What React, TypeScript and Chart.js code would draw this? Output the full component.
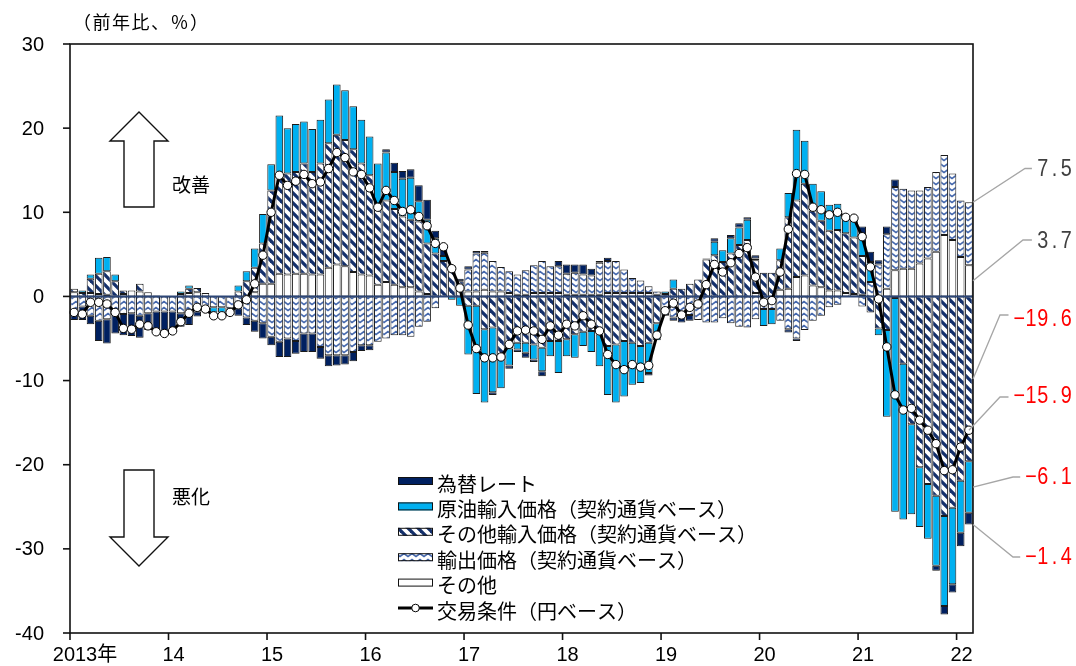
import { useEffect, useRef } from "react";
import { Chart, registerables } from "chart.js";

Chart.register(...registerables);

// Monthly categories, 2013/01 .. 2022/02
const months: string[] = [];
for (let y = 2013; y <= 2022; y++) {
  for (let m = 1; m <= 12; m++) {
    if (y === 2022 && m > 2) break;
    months.push(`${y}/${m}`);
  }
}

const yearLabels = ["2013年", "14", "15", "16", "17", "18", "19", "20", "21", "22"];
const yTicks = [30, 20, 10, 0, -10, -20, -30, -40];

// Contributions (percentage points, y/y)
const otherFactors = [
  0.5, 0, 0.4, 0.3, 0.2, 0, 0.3, 0.7, 0.6, 0.5, 0.1, 0,
  0, 0, 0.4, 0.5, 0.4, 0, 0, 0, 0, 0, 0.5, 1.5,
  1.5, 2.7, 2.6, 2.7, 2.7, 2.6, 2.6, 3.4, 3.8, 3.6, 2.9, 2.6,
  2.5, 1.4, 1.7, 1.4, 1.1, 1.1, 0.6, 0.3, 0, 0, 0, 0,
  0.6, 0.6, 0.8, 0.6, 0.6, 0.4, 0.2, 0.2, 0.4, 0.4, 0.4, 0.4,
  0.2, 0.2, 0.2, 0.2, 0.2, 0.4, 0.4, 0.4, 0.4, 0.4, 0.4, 0.2,
  0, 0, 0, 0, 0, 0, 0, 0, 0, 0, 0, 0.4,
  0, 0, 0.8, 0.9, 2.3, 2.5, 1.3, 1.1, 0.7, 0.7, 0.4, 0.3,
  0.2, 0, 0, 0.9, 3.1, 3.3, 3.3, 3.9, 4.5, 5.3, 7.3, 6.7,
  4.7, 3.7,
];

const exportPrices = [
  -1.8, -1.2, -2.3, -2.9, -2.7, -1.8, -2.1, -2.0, -2.3, -2.0, -1.8, -1.8,
  -1.8, -2.0, -2.2, -1.8, -1.6, -1.3, -1.3, -1.4, -1.4, -2.5, -2.9, -3.2,
  -4.8, -5.4, -5.0, -5.3, -4.4, -4.4, -6.0, -7.0, -7.0, -7.0, -6.6, -5.8,
  -5.8, -5.4, -5.0, -4.6, -4.6, -4.8, -3.6, -3.0, -1.4, 0, 0, 0,
  2.6, 4.5, 4.4, 3.6, 2.9, 2.6, 2.4, 2.9, 3.3, 3.8, 3.2, 3.2,
  2.5, 2.6, 2.4, 2.3, 3.8, 3.8, 3.8, 2.8, 1.8, 1.5, 0.8, 0.4,
  -1.7, -2.5, -2.5, -2.2, -2.8, -3.1, -3.1, -2.6, -3.2, -3.6, -3.7, -2.7,
  -1.5, -1.5, -2.9, -3.9, -5.0, -4.0, -2.9, -2.3, -1.3, -1.0, 0, 0,
  -1.2, 1.7, 3.8, 6.5, 9.9, 9.5, 9.3, 8.7, 8.5, 9.5, 9.5, 7.9,
  6.7, 7.5,
];

const otherImportPrices = [
  0.4, 0.4, 1.7, 2.4, 2.8, 1.8, 0.4, 0, 0.9, 0, 0, 0,
  0, 0.3, 0.5, 0.5, 0, 0, 0, 0, 0.6, 1.8, 2.9, 4.8,
  11.1, 11.9, 12.0, 12.1, 13.1, 12.2, 13.2, 14.8, 15.4, 15.0, 14.6, 13.2,
  11.9, 9.4, 9.7, 9.0, 8.4, 8.0, 8.3, 6.0, 5.1, 4.2, 3.3, 1.8,
  -1.1, -1.1, -3.9, -3.7, -6.9, -6.2, -5.5, -5.5, -5.7, -6.1, -5.3, -5.3,
  -5.1, -4.5, -4.2, -4.1, -4.5, -5.9, -5.7, -5.3, -5.5, -5.9, -5.5, -3.2,
  0.3, 0.9, 0.9, 1.5, 2.0, 4.4, 4.9, 4.1, 5.1, 6.1, 6.7, 3.9,
  2.8, 2.8, 3.5, 8.5, 9.1, 10.9, 8.9, 7.9, 7.1, 7.2, 7.1, 6.7,
  4.6, -1.9, -3.8, -4.0, -0.2, -8.0, -15.2, -20.3, -22.3, -23.7, -26.1, -25.1,
  -21.9, -19.6,
];

const crudeOilImportPrices = [
  0, 0.3, 0.5, 1.9, 1.7, 0.8, 0, 0, 0, 0, 0, 0,
  0, 0.3, 0.4, 0, 0, -0.6, -0.6, 0, 0.7, 1.2, 2.3, 3.5,
  3.1, 6.9, 5.4, 5.7, 5.0, 5.1, 5.2, 5.2, 6.0, 5.9, 5.1, 5.2,
  4.6, 5.0, 5.7, 4.4, 4.5, 5.0, 2.4, 2.8, 1.8, 0.6, -0.4, -1.1,
  -5.8, -10.5, -8.7, -7.7, -4.0, -2.0, -0.8, -1.2, -1.8, -2.8, -1.8, -3.8,
  -2.0, -2.8, -1.7, -2.5, -3.8, -5.8, -6.9, -6.6, -5.0, -4.4, -3.6, -2.0,
  0.3, 1.1, 0, 0, 0, 0, 1.6, 1.4, 1.8, 2.1, 2.4, 0.2,
  -2.0, -1.8, 1.4, 2.9, 8.4, 5.1, 3.2, 3.5, 3.1, 3.1, 2.0, 2.0,
  2.6, 2.4, -0.8, -10.3, -25.4, -18.5, -10.7, -7.1, -6.5, -8.3, -10.7, -9.1,
  -6.2, -6.1,
];

const exchangeRate = [
  -1.0, -1.6, -1.0, -2.4, -2.9, -2.6, -2.5, -2.7, -2.6, -2.0, -2.5, -2.6,
  -2.3, -1.6, -1.2, -0.6, -0.3, -0.4, -0.4, -0.5, -0.9, -0.9, -1.3, -1.8,
  -1.0, -1.8, -2.2, -1.5, -2.2, -2.2, -1.4, -1.3, -1.2, -1.1, -1.1, -0.7,
  -0.6, 0, 0.4, 1.1, 0.9, 1.0, 1.9, 2.4, 0.9, 1.0, 0.4, 0.3,
  0.4, 0.3, 0.2, -0.3, 0, -0.4, -0.3, -0.6, -0.3, -0.6, 0, 0.6,
  1.1, 1.0, 1.2, 0.8, 0.2, 0.4, 0, 0, 0, 0, -0.3, 0,
  -0.6, -0.4, -0.6, -0.7, 0, 0.1, 0.4, 0, 0.4, 0.5, 0.3, 0.4,
  0, 0, 0, -0.4, -0.3, 0, 0, 0, 0, 0, 0, 0.4,
  0.9, 1.2, 0.5, 0.9, 0.9, 0, 0, 0, 0, -0.6, -1.0, -1.0,
  -1.6, -1.4,
];

// Terms of trade (yen basis, y/y %)
const termsOfTrade = [
  -1.9, -2.1, -0.7, -0.7, -0.9, -1.9, -3.8, -3.9, -3.3, -3.5, -4.2, -4.4,
  -4.1, -3.0, -2.0, -1.3, -1.5, -2.3, -2.3, -1.9, -1.0, -0.4, 1.5, 4.9,
  10.0, 14.4, 13.2, 13.7, 14.5, 13.4, 13.6, 15.2, 17.1, 16.5, 14.8, 14.5,
  12.9, 10.6, 12.6, 11.4, 10.1, 10.3, 9.5, 8.4, 6.3, 5.9, 3.3, 1.0,
  -3.4, -6.2, -7.3, -7.3, -7.2, -5.7, -4.1, -4.0, -4.1, -5.1, -3.5, -4.6,
  -3.3, -3.5, -2.3, -3.3, -4.1, -6.9, -8.1, -8.7, -8.1, -8.4, -8.2, -4.6,
  -1.7, -0.8, -2.2, -1.3, -0.9, 1.4, 3.8, 2.9, 4.0, 5.1, 5.8, 2.3,
  -0.7, -0.5, 2.9, 8.0, 14.6, 14.5, 10.6, 10.3, 9.7, 10.0, 9.4, 9.3,
  7.1, 3.5, -0.3, -6.0, -11.7, -13.5, -13.3, -14.7, -15.9, -17.5, -20.7, -20.6,
  -17.9, -15.9,
];

const NAVY = "#002060";
const CYAN = "#00B0F0";
const JP_FONT = '"Noto Sans CJK JP", "Noto Sans", sans-serif';
const NUM_FONT = '"Liberation Sans", Arial, "Noto Sans CJK JP", sans-serif';

function makeHatch(): CanvasPattern {
  const c = document.createElement("canvas");
  c.width = 10;
  c.height = 10;
  const g = c.getContext("2d")!;
  g.fillStyle = "#ffffff";
  g.fillRect(0, 0, 10, 10);
  g.strokeStyle = "#14306b";
  g.lineWidth = 3.3;
  for (const off of [-10, 0, 10]) {
    g.beginPath();
    g.moveTo(off - 3, -3);
    g.lineTo(off + 13, 13);
    g.stroke();
  }
  return g.createPattern(c, "repeat")!;
}

function makeZigzag(): CanvasPattern {
  const c = document.createElement("canvas");
  c.width = 8;
  c.height = 6;
  const g = c.getContext("2d")!;
  g.fillStyle = "#ffffff";
  g.fillRect(0, 0, 8, 6);
  g.strokeStyle = "#4568ad";
  g.lineWidth = 1.6;
  g.beginPath();
  g.moveTo(-4, 1.5);
  g.lineTo(0, 4.5);
  g.lineTo(4, 1.5);
  g.lineTo(8, 4.5);
  g.lineTo(12, 1.5);
  g.stroke();
  return g.createPattern(c, "repeat")!;
}

const toBar = (arr: number[]) => arr.map((v) => (v === 0 ? null : v));

function fmt(v: number): string {
  const s = Math.abs(v).toFixed(1);
  return v < 0 ? "\u2212" + s : s;
}

const LINE_INDEX = 5;

const decorPlugin = {
  id: "decor",
  beforeDatasetDraw(chart: any, args: any) {
    if (args.index !== LINE_INDEX) return;
    const { ctx, chartArea: a, scales } = chart;
    const y0 = scales.y.getPixelForValue(0);
    ctx.save();
    ctx.strokeStyle = "#2d4677";
    ctx.lineWidth = 2;
    ctx.beginPath();
    ctx.moveTo(a.left, y0);
    ctx.lineTo(a.right, y0);
    ctx.stroke();
    ctx.restore();
  },
  afterDraw(chart: any) {
    const { ctx, chartArea: a, scales } = chart;
    const ys = scales.y;
    const xs = scales.x;
    const n = months.length;
    const w = (a.right - a.left) / n;
    ctx.save();

    // frame
    ctx.strokeStyle = "#111";
    ctx.lineWidth = 1.6;
    ctx.strokeRect(a.left, a.top, a.right - a.left, a.bottom - a.top);

    // y axis ticks and labels
    ctx.font = `20px ${NUM_FONT}`;
    ctx.fillStyle = "#000";
    ctx.textAlign = "right";
    ctx.textBaseline = "middle";
    for (const v of yTicks) {
      const y = ys.getPixelForValue(v);
      ctx.beginPath();
      ctx.moveTo(a.left - 7, y);
      ctx.lineTo(a.left, y);
      ctx.stroke();
      ctx.fillText(String(v), a.left - 26, y + 1);
    }

    // x axis year ticks and labels
    ctx.font = `20px ${NUM_FONT}`;
    yearLabels.forEach((lab, k) => {
      const x = a.left + 12 * k * w;
      ctx.beginPath();
      ctx.moveTo(x, a.bottom);
      ctx.lineTo(x, a.bottom + 7);
      ctx.stroke();
      const digits = lab.replace("年", "");
      const dw = ctx.measureText(digits).width;
      ctx.textAlign = "left";
      ctx.fillText(lab, x + 5 - dw / 2, 655);
    });

    // unit label
    ctx.font = `18px ${JP_FONT}`;
    ctx.textAlign = "left";
    (ctx as any).letterSpacing = "1.5px";
    ctx.fillText("（前年比、％）", 73, 22);
    (ctx as any).letterSpacing = "0px";

    // arrows
    ctx.fillStyle = "#fff";
    ctx.strokeStyle = "#111";
    ctx.lineWidth = 1.4;
    const up = [
      [139, 112], [168, 141], [154, 141], [154, 207], [124, 207], [124, 141], [110, 141],
    ];
    const down = [
      [124, 470], [154, 470], [154, 537], [168, 537], [139, 566], [110, 537], [124, 537],
    ];
    for (const poly of [up, down]) {
      ctx.beginPath();
      poly.forEach(([px, py], i) => (i ? ctx.lineTo(px, py) : ctx.moveTo(px, py)));
      ctx.closePath();
      ctx.fill();
      ctx.stroke();
    }
    ctx.fillStyle = "#000";
    ctx.font = `19px ${JP_FONT}`;
    ctx.textBaseline = "middle";
    ctx.fillText("改善", 172, 185);
    ctx.fillText("悪化", 172, 497);

    // legend
    const ds = chart.data.datasets;
    const legendOrder = [4, 3, 2, 1, 0, 5];
    legendOrder.forEach((di, r) => {
      const d = ds[di];
      const cy = 481 + r * 25.4;
      if (di === LINE_INDEX) {
        ctx.strokeStyle = "#000";
        ctx.lineWidth = 3;
        ctx.beginPath();
        ctx.moveTo(398, cy);
        ctx.lineTo(433, cy);
        ctx.stroke();
        ctx.fillStyle = "#fff";
        ctx.lineWidth = 1;
        ctx.beginPath();
        ctx.arc(415.5, cy, 3.8, 0, Math.PI * 2);
        ctx.fill();
        ctx.stroke();
      } else {
        ctx.fillStyle = d.backgroundColor;
        ctx.fillRect(398, cy - 4, 35, 8);
        ctx.strokeStyle = "#111";
        ctx.lineWidth = 1;
        ctx.strokeRect(398.5, cy - 3.5, 34, 7);
      }
      ctx.fillStyle = "#000";
      ctx.font = `20px ${JP_FONT}`;
      ctx.textAlign = "left";
      ctx.textBaseline = "middle";
      ctx.fillText(d.label, 437, cy + 3);
    });

    // value labels for the latest month
    const last = n - 1;
    const white = otherFactors[last];
    const exp = exportPrices[last];
    const oth = otherImportPrices[last];
    const oil = crudeOilImportPrices[last];
    const fx = exchangeRate[last];
    const tot = termsOfTrade[last];
    const callouts = [
      { v: exp, ax: a.right, ay: ys.getPixelForValue(white + exp), ex: 1025, ey: 168.5, ty: 170 },
      { v: white, ax: a.right, ay: ys.getPixelForValue(white / 2), ex: 1023, ey: 240, ty: 242 },
      { v: oth, ax: a.right, ay: ys.getPixelForValue(oth / 2), ex: 1000, ey: 315, ty: 320 },
      { v: tot, ax: xs.getPixelForValue(last), ay: ys.getPixelForValue(tot), ex: 1000, ey: 397, ty: 397 },
      { v: oil, ax: a.right, ay: ys.getPixelForValue(oth + oil / 2), ex: 1013, ey: 477, ty: 478 },
      { v: fx, ax: a.right, ay: ys.getPixelForValue(oth + oil + fx), ex: 1013, ey: 557, ty: 558 },
    ];
    const cell = 11.7;
    const rightEdge = 1072;
    for (const c of callouts) {
      const text = fmt(c.v);
      ctx.strokeStyle = "#a6a6a6";
      ctx.lineWidth = 1.3;
      ctx.beginPath();
      ctx.moveTo(c.ax, c.ay);
      ctx.lineTo(c.ex, c.ey);
      ctx.lineTo(rightEdge - text.length * cell - 5, c.ey);
      ctx.stroke();
      ctx.fillStyle = c.v < 0 ? "#ff0000" : "#404040";
      ctx.font = `23px ${NUM_FONT}`;
      ctx.textAlign = "center";
      ctx.textBaseline = "middle";
      const start = rightEdge - text.length * cell;
      for (let i = 0; i < text.length; i++) {
        const cx = start + (i + 0.5) * cell;
        ctx.save();
        ctx.translate(cx, c.ty);
        ctx.scale(0.86, 1);
        ctx.fillText(text[i], 0, 0);
        ctx.restore();
      }
    }

    ctx.restore();
  },
};

export default function App() {
  const ref = useRef<HTMLCanvasElement>(null);

  useEffect(() => {
    const canvas = ref.current;
    if (!canvas) return;
    const hatch = makeHatch();
    const zigzag = makeZigzag();
    const barStyle = {
      type: "bar" as const,
      borderColor: "#1a1a1a",
      borderWidth: 1,
      borderSkipped: false,
      barPercentage: 0.93,
      categoryPercentage: 1,
      order: 1,
    };
    const chart = new Chart(canvas, {
      type: "bar",
      data: {
        labels: months,
        datasets: [
          { ...barStyle, label: "その他", data: toBar(otherFactors), backgroundColor: "#ffffff" },
          { ...barStyle, label: "輸出価格（契約通貨ベース）", data: toBar(exportPrices), backgroundColor: zigzag },
          { ...barStyle, label: "その他輸入価格（契約通貨ベース）", data: toBar(otherImportPrices), backgroundColor: hatch },
          { ...barStyle, label: "原油輸入価格（契約通貨ベース）", data: toBar(crudeOilImportPrices), backgroundColor: CYAN },
          { ...barStyle, label: "為替レート", data: toBar(exchangeRate), backgroundColor: NAVY },
          {
            type: "line",
            label: "交易条件（円ベース）",
            data: termsOfTrade,
            borderColor: "#000",
            borderWidth: 3,
            pointRadius: 4.2,
            pointBackgroundColor: "#fff",
            pointBorderColor: "#000",
            pointBorderWidth: 1,
            tension: 0,
            order: 0,
          } as any,
        ],
      },
      options: {
        responsive: false,
        animation: false,
        devicePixelRatio: 1,
        events: [],
        layout: { padding: { left: 70, right: 103, top: 44, bottom: 33 } },
        scales: {
          x: { display: false, stacked: true, offset: true },
          y: { display: false, stacked: true, min: -40, max: 30 },
        },
        plugins: {
          legend: { display: false },
          tooltip: { enabled: false },
        },
      } as any,
      plugins: [decorPlugin],
    });
    return () => chart.destroy();
  }, []);

  return (
    <div style={{ position: "absolute", left: 0, top: 0, width: 1076, height: 666, background: "#fff" }}>
      <canvas ref={ref} width={1076} height={666} style={{ display: "block", width: 1076, height: 666 }} />
    </div>
  );
}
